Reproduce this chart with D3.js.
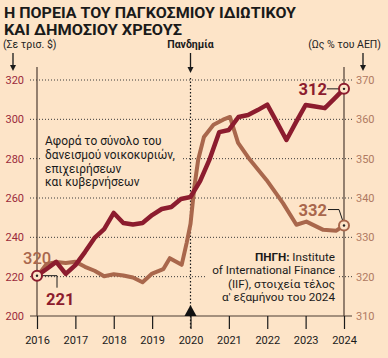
<!DOCTYPE html>
<html><head><meta charset="utf-8">
<script src="https://cdn.jsdelivr.net/npm/d3@7/dist/d3.min.js"></script>
<style>
html,body{margin:0;padding:0;background:#fde4c8;}
svg{display:block;font-family:Roboto,"Open Sans",sans-serif;}
</style></head>
<body>
<script>
// ---- data ----
const debtTimes = [2016,2016.25,2016.5,2016.75,2017,2017.25,2017.5,2017.75,2018,2018.25,2018.5,2018.75,2019,2019.25,2019.5,2019.75,2020,2020.25,2020.5,2020.75,2021,2021.25,2021.5,2021.75,2022,2022.25,2022.5,2022.75,2023,2023.25,2023.5,2023.75,2024];
const debtTrillions = [220.5,223.9,227.5,221.4,225.9,232.5,239.7,244.2,252.4,247.3,246.5,247.3,251.3,254.4,255.4,259.5,260.5,268.6,279.8,293.5,294.6,301.2,302.2,304.7,307.5,298.6,289.5,298.6,307.3,306.5,305.7,310.5,315.5];
const gdpTimes = [2016,2016.25,2016.5,2016.75,2017,2017.25,2017.5,2017.75,2018,2018.25,2018.5,2018.75,2019,2019.29,2019.46,2019.77,2019.9,2020,2020.1,2020.2,2020.35,2020.6,2020.85,2021.03,2021.24,2021.55,2021.98,2022.41,2022.76,2023.02,2023.46,2023.8,2024];
const debtPctGdp = [320,323.2,323.7,323.5,323.8,322.5,321.5,320.1,320.6,320.3,319.8,318.6,320.8,321.9,324.7,323.0,328.6,333.4,342.8,349.7,355.5,358.6,359.9,360.6,354.0,349.7,344.6,338.7,333.2,334.0,331.9,331.7,333.0];
const years = [2016,2017,2018,2019,2020,2021,2022,2023,2024];
const leftTicks = [200,220,240,260,280,300,320];
const rightTicks = [310,320,330,340,350,360,370];
const labelStartDebt = "221", labelEndDebt = "312";
const labelStartPct = "320", labelEndPct = "332";

const W = 388, H = 358;
const RED = "#8c1c2e", BROWN = "#a9674c", BG = "#fde4c8", AXIS = "#4d3d33";
const svg = d3.select("body").append("svg").attr("width", W).attr("height", H);
svg.append("rect").attr("width", W).attr("height", H).attr("fill", BG);

const x = d3.scaleLinear().domain([2016, 2024]).range([37, 344]);
const yL = d3.scaleLinear().domain([200, 320]).range([316, 80]);
const yR = d3.scaleLinear().domain([310, 370]).range([316, 80]);

// title
const title = svg.append("g").attr("font-weight", 700).attr("fill", "#1a1a1a").attr("font-size", 14.4)
  .attr("font-family", "Roboto, sans-serif");
title.append("text").attr("x", 4).attr("y", 17.5).text("Η ΠΟΡΕΙΑ ΤΟΥ ΠΑΓΚΟΣΜΙΟΥ ΙΔΙΩΤΙΚΟΥ")
  .attr("textLength", 292).attr("lengthAdjust", "spacingAndGlyphs");
title.append("text").attr("x", 4).attr("y", 34.5).text("ΚΑΙ ΔΗΜΟΣΙΟΥ ΧΡΕΟΥΣ")
  .attr("textLength", 178).attr("lengthAdjust", "spacingAndGlyphs");

// unit labels
svg.append("text").attr("x", 3).attr("y", 48).attr("font-size", 10.5).attr("fill", "#222").text("(Σε τρισ. $)");
svg.append("text").attr("x", 381).attr("y", 48).attr("text-anchor", "end").attr("font-size", 10.5).attr("fill", "#222").text("(Ως % του ΑΕΠ)");
svg.append("text").attr("x", x(2020)).attr("y", 48).attr("text-anchor", "middle").attr("font-size", 10.5).attr("font-weight", 700).attr("fill", "#1a1a1a").text("Πανδημία");

function arrow(cx, y0, y1) {
  svg.append("line").attr("x1", cx).attr("x2", cx).attr("y1", y0).attr("y2", y1 - 5).attr("stroke", "#1a1a1a").attr("stroke-width", 1.3);
  svg.append("path").attr("d", `M${cx-3},${y1-6}L${cx+3},${y1-6}L${cx},${y1}Z`).attr("fill", "#1a1a1a");
}
arrow(13, 53, 71);
arrow(363, 53, 71);
arrow(x(2020), 53, 73);

// gridlines
const grid = svg.append("g");
leftTicks.slice(1).forEach(t => {
  grid.append("line").attr("x1", 30).attr("x2", 352).attr("y1", yL(t)).attr("y2", yL(t))
    .attr("stroke", "#3a3a3a").attr("stroke-width", 1).attr("stroke-dasharray", "1,2");
});
// axis lines
svg.append("line").attr("x1", 30).attr("x2", 352).attr("y1", yL(200)).attr("y2", yL(200)).attr("stroke", AXIS).attr("stroke-width", 1.2);
svg.append("line").attr("x1", x(2016)).attr("x2", x(2016)).attr("y1", 67).attr("y2", yL(200)).attr("stroke", AXIS).attr("stroke-width", 1.2);
svg.append("line").attr("x1", x(2024)).attr("x2", x(2024)).attr("y1", 67).attr("y2", yL(200)).attr("stroke", AXIS).attr("stroke-width", 1.2);

// left/right tick labels
svg.append("g").selectAll("text").data(leftTicks).join("text")
  .attr("x", 24).attr("y", d => yL(d)).attr("dy", "0.36em").attr("text-anchor", "end")
  .attr("font-size", 11).attr("fill", "#9b2a3b").text(d => d);
svg.append("g").selectAll("text").data(rightTicks).join("text")
  .attr("x", 356).attr("y", d => yR(d)).attr("dy", "0.36em")
  .attr("font-size", 11).attr("fill", "#b07a62").text(d => d);

// x axis
const xAxis = svg.append("g").attr("transform", `translate(0,${yL(200)})`)
  .call(d3.axisBottom(x).tickValues(years).tickFormat(d3.format("d")).tickSize(13).tickPadding(7));
xAxis.select(".domain").remove();
xAxis.selectAll(".tick line").attr("stroke", "#1a1a1a").attr("stroke-width", 1.2);
xAxis.selectAll(".tick text").attr("font-size", 11).attr("fill", "#1a1a1a").attr("font-family", "Roboto, sans-serif");

// pandemic vertical dotted line + triangle
svg.append("line").attr("x1", x(2020)).attr("x2", x(2020)).attr("y1", 78).attr("y2", 330)
  .attr("stroke", "#1a1a1a").attr("stroke-width", 1.2).attr("stroke-dasharray", "1.5,2");
svg.append("path").attr("d", `M${x(2020)-6},${yL(200)}L${x(2020)+6},${yL(200)}L${x(2020)},${yL(200)-11}Z`).attr("fill", "#111");

// annotation boxes
function textBlock(lines, xx, y0, dy, anchor, boxX, boxW, fs) {
  svg.append("rect").attr("x", boxX).attr("y", y0 - 9).attr("width", boxW).attr("height", dy * lines.length + 2).attr("fill", BG);
  const t = svg.append("text").attr("font-size", fs).attr("fill", "#1a1a1a").attr("text-anchor", anchor);
  lines.forEach((l, i) => {
    const tl = t.append("tspan").attr("x", xx).attr("y", y0 + i * dy + 4);
    if (Array.isArray(l)) {
      tl.append("tspan").attr("font-weight", 700).text(l[0]);
      tl.append("tspan").text(l[1]);
    } else tl.text(l);
  });
}
textBlock(["Αφορά το σύνολο του", "δανεισμού νοικοκυριών,", "επιχειρήσεων", "και κυβερνήσεων"], 45, 141, 13.8, "start", 42, 140, 11.9);
textBlock([["ΠΗΓΗ:", " Institute"], "of International Finance", "(IIF), στοιχεία τέλος", "α' εξαμήνου του 2024"], 335, 257, 13.4, "end", 205, 132, 11.7);

// lines
const debtData = debtTimes.map((t, i) => ({t, v: debtTrillions[i]}));
const pctData = gdpTimes.map((t, i) => ({t, v: debtPctGdp[i]}));
svg.append("path").datum(pctData)
  .attr("d", d3.line().x(d => x(d.t)).y(d => yR(d.v)))
  .attr("fill", "none").attr("stroke", BROWN).attr("stroke-width", 4).attr("stroke-linejoin", "round");
svg.append("path").datum(debtData)
  .attr("d", d3.line().x(d => x(d.t)).y(d => yL(d.v)))
  .attr("fill", "none").attr("stroke", RED).attr("stroke-width", 4.5).attr("stroke-linejoin", "round");

// end markers
function marker(cx, cy, col) {
  svg.append("circle").attr("cx", cx).attr("cy", cy).attr("r", 5).attr("fill", BG).attr("stroke", col).attr("stroke-width", 2);
  svg.append("circle").attr("cx", cx).attr("cy", cy).attr("r", 1.2).attr("fill", "#222");
}
const s0 = {x: x(debtTimes[0]), y: yL(debtTrillions[0])};
const e0 = {x: x(debtTimes[debtTimes.length-1]), y: yL(debtTrillions[debtTrillions.length-1])};
const e1 = {x: x(gdpTimes[gdpTimes.length-1]), y: yR(debtPctGdp[debtPctGdp.length-1])};

// leaders
svg.append("path").attr("d", `M${s0.x+5},${s0.y}H${s0.x+20}V${s0.y+12}`).attr("fill", "none").attr("stroke", "#1a1a1a").attr("stroke-width", 1);
svg.append("path").attr("d", `M${e0.x-17},${e0.y}H${e0.x-5}`).attr("fill", "none").attr("stroke", "#1a1a1a").attr("stroke-width", 1);
svg.append("path").attr("d", `M${e1.x-16},${e1.y-16}H${e1.x-5}L${e1.x-1},${e1.y-4}`).attr("fill", "none").attr("stroke", "#1a1a1a").attr("stroke-width", 1);

marker(s0.x, s0.y, RED);
marker(e0.x, e0.y, RED);
marker(e1.x, e1.y, BROWN);

// value labels
svg.append("text").attr("x", 23).attr("y", 264).attr("font-size", 16.5).attr("font-weight", 500).attr("fill", BROWN).text(labelStartPct);
svg.append("text").attr("x", 46).attr("y", 305).attr("font-size", 16.5).attr("font-weight", 700).attr("fill", RED).text(labelStartDebt);
svg.append("text").attr("x", e0.x - 17).attr("y", e0.y + 6).attr("text-anchor", "end").attr("font-size", 16.5).attr("font-weight", 700).attr("fill", RED).text(labelEndDebt);
svg.append("text").attr("x", e1.x - 17).attr("y", e1.y - 10).attr("text-anchor", "end").attr("font-size", 16.5).attr("font-weight", 700).attr("fill", BROWN).text(labelEndPct);
</script>
</body></html>
